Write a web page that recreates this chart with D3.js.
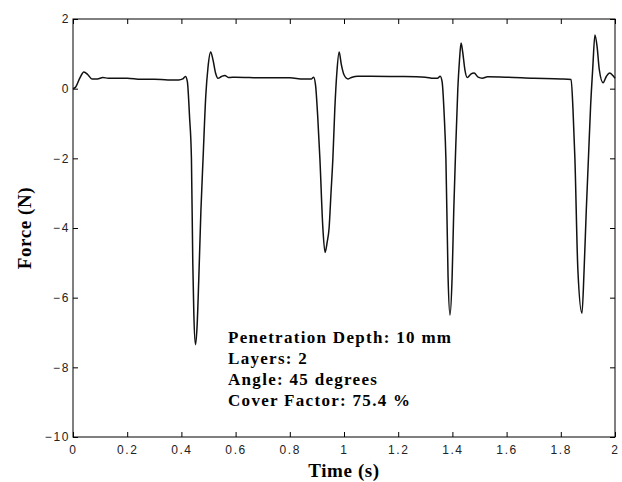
<html>
<head>
  <meta charset="utf-8">
  <script src="https://cdnjs.cloudflare.com/ajax/libs/d3/7.8.5/d3.min.js"></script>
  <style>
    body { margin: 0; background: #fff; }
    .tick text { font-family: Arial, "Liberation Sans", sans-serif; font-size: 12px; fill: #222; letter-spacing: 1.6px; }
    .tick line { stroke: #000; }
    .domain { display: none; }
    .lbl { font-family: "Liberation Serif", "Times New Roman", serif; font-weight: bold; font-size: 19px; letter-spacing: 0.6px; fill: #000; }
    .note { font-family: "Liberation Serif", "Times New Roman", serif; font-weight: bold; font-size: 17px; letter-spacing: 1.3px; fill: #000; }
  </style>
</head>
<body>
<svg width="622" height="482"></svg>
<script>
// force trace
var time = [0.000,0.010,0.025,0.040,0.055,0.070,0.090,0.110,0.130,0.200,0.250,0.300,0.350,0.390,0.405,0.415,
  0.422,0.430,0.437,0.442,0.446,0.452,0.458,0.464,0.472,0.480,0.490,0.498,0.508,0.516,0.526,0.535,0.548,0.560,
  0.575,0.600,0.650,0.700,0.800,0.850,0.880,0.888,0.895,0.903,0.911,0.922,0.930,0.938,0.945,0.952,0.959,0.966,
  0.974,0.982,0.990,1.000,1.015,1.030,1.050,1.100,1.200,1.300,1.330,1.345,1.355,1.362,1.370,1.376,1.384,1.391,
  1.399,1.405,1.411,1.420,1.426,1.432,1.438,1.446,1.455,1.468,1.480,1.495,1.510,1.530,1.600,1.700,1.800,1.838,
  1.845,1.852,1.863,1.878,1.886,1.894,1.902,1.910,1.918,1.926,1.934,1.942,1.956,1.968,1.980,1.992,2.000];
var force = [0.00,0.05,0.30,0.48,0.40,0.28,0.28,0.32,0.30,0.30,0.27,0.27,0.25,0.25,0.28,0.35,
  0.20,-0.80,-2.0,-5.0,-6.5,-7.35,-6.8,-5.5,-3.5,-2.0,-0.2,0.60,1.05,0.85,0.45,0.30,0.35,0.38,
  0.32,0.33,0.32,0.31,0.31,0.28,0.28,0.33,0.10,-0.8,-2.0,-4.0,-4.7,-4.4,-4.0,-3.0,-2.0,-0.6,
  0.50,1.05,0.70,0.40,0.28,0.33,0.36,0.36,0.35,0.33,0.30,0.30,0.36,0.20,-0.8,-2.0,-5.4,-6.5,
  -5.4,-3.5,-2.0,0.0,0.8,1.31,1.05,0.55,0.32,0.42,0.45,0.33,0.30,0.34,0.33,0.30,0.28,0.26,
  -0.6,-2.0,-5.2,-6.45,-5.2,-3.5,-2.0,-0.5,0.6,1.54,1.20,0.55,0.17,0.35,0.45,0.38,0.30];

var xTicks = [0,0.2,0.4,0.6,0.8,1,1.2,1.4,1.6,1.8,2];
var yTicks = [-10,-8,-6,-4,-2,0,2];
var notes = ["Penetration Depth: 10 mm", "Layers: 2", "Angle: 45 degrees", "Cover Factor: 75.4 %"];

var m = {left: 73, top: 19, right: 7, bottom: 45};
var W = 622 - m.left - m.right, H = 482 - m.top - m.bottom;

var svg = d3.select("svg");
var g = svg.append("g").attr("transform", `translate(${m.left},${m.top})`);

var x = d3.scaleLinear().domain([0, 2]).range([0, W]);
var y = d3.scaleLinear().domain([-10, 2]).range([H, 0]);

g.append("g").attr("transform", `translate(0,${H})`)
  .call(d3.axisBottom(x).tickValues(xTicks).tickSize(-5).tickPadding(8).tickFormat(d3.format("")));
g.append("g").call(d3.axisTop(x).tickValues(xTicks).tickSize(-5).tickFormat(""));
g.append("g")
  .call(d3.axisLeft(y).tickValues(yTicks).tickSize(-5).tickPadding(3));
g.append("g").attr("transform", `translate(${W},0)`)
  .call(d3.axisRight(y).tickValues(yTicks).tickSize(-5).tickFormat(""));

g.append("rect").attr("width", W).attr("height", H)
  .attr("fill", "none").attr("stroke", "#000").attr("stroke-width", 1);

var pts = time.map((t, i) => [t, force[i]]);
g.append("path").datum(pts)
  .attr("fill", "none").attr("stroke", "#111").attr("stroke-width", 1.5)
  .attr("d", d3.line().x(d => x(d[0])).y(d => y(d[1])).curve(d3.curveMonotoneX));

g.selectAll("text.note").data(notes).enter().append("text")
  .attr("class", "note")
  .attr("x", 155)
  .attr("y", (d, i) => 324 + i * 21)
  .text(d => d);

svg.append("text").attr("class", "lbl")
  .attr("text-anchor", "middle")
  .attr("transform", `translate(31,${m.top + H / 2}) rotate(-90)`)
  .text("Force (N)");

svg.append("text").attr("class", "lbl")
  .attr("text-anchor", "middle")
  .attr("x", m.left + W / 2).attr("y", 477)
  .text("Time (s)");
</script>
</body>
</html>
